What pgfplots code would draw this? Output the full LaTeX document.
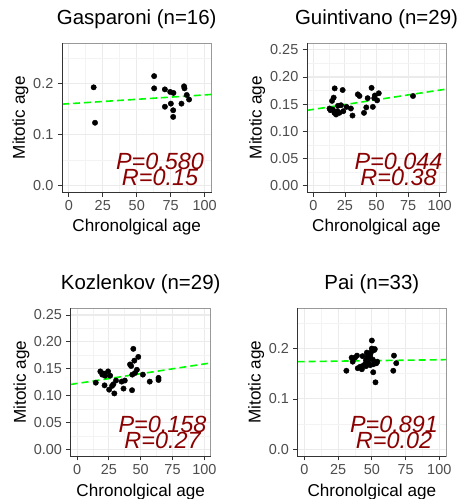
\documentclass[border=0pt]{standalone}
\usepackage{fontspec}
\setmainfont{Liberation Sans}
\usepackage{pgfplots}
\pgfplotsset{compat=1.18}
\definecolor{gridc}{HTML}{EBEBEB}
\definecolor{prc}{HTML}{8B0000}
\definecolor{tickc}{HTML}{4D4D4D}
\definecolor{fitc}{HTML}{00FF00}

\pgfplotsset{
 panel/.style={
  scale only axis,
  xmin=-5, xmax=105,
  xtick={0,25,50,75,100},
  xticklabels={0,25,50,75,100},
  minor xtick={12.5,37.5,62.5,87.5},
  grid=both,
  major grid style={draw=gridc, line width=1.1bp},
  minor grid style={draw=gridc!60, line width=0.6bp},
  axis line style={draw=black!40, line width=0.8bp},
  tick pos=left, tick align=outside,
  major tick length=4.5bp, minor tick length=0pt,
  tick style={draw=black!80, line width=0.8bp},
  /pgf/number format/assume math mode=true,
  ticklabel style={font=\fontsize{14.5}{14.5}\selectfont, text=tickc, inner sep=0pt},
  xticklabel style={anchor=north, yshift=-3.5bp},
  yticklabel style={anchor=east, xshift=-4bp},
  xlabel={Chronolgical age}, ylabel={Mitotic age},
  label style={font=\fontsize{17.2}{17.2}\selectfont},
  title style={font=\fontsize{20.5}{20.5}\selectfont, anchor=base},
  after end axis/.code={\draw[black!80,line width=0.8bp] (rel axis cs:0,1) -- (rel axis cs:0,0) -- (rel axis cs:1,0);},
 },
 ysmall/.style={ymin=-0.0133, ymax=0.28, ytick={0,0.1,0.2}, yticklabels={0.0,0.1,0.2}, minor ytick={0.05,0.15,0.25}},
 ybig/.style={ymin=-0.0125, ymax=0.2625, ytick={0,0.05,0.1,0.15,0.2,0.25}, yticklabels={0.00,0.05,0.10,0.15,0.20,0.25}, minor ytick={0.025,0.075,0.125,0.175,0.225}},
 pts/.style={only marks, mark=*, mark size=2.7bp, black},
 fit/.style={no marks, draw=fitc, dash pattern=on 7bp off 4bp, line width=1.6bp},
}

\pgfplotstableread{
x y
18.3 0.193
19.3 0.1235
62.8 0.215
62.8 0.191
70.7 0.189
70.7 0.155
74.6 0.184
77.0 0.182
75.1 0.161
76.8 0.148
76.8 0.135
82.9 0.161
84.8 0.195
85.1 0.191
86.8 0.178
88.5 0.169
}\gasparoni

\pgfplotstableread{
x y
12.8 0.142
14.8 0.156
16.1 0.162
16.9 0.179
15.4 0.140
16.7 0.134
18.0 0.131
19.0 0.137
19.5 0.147
20.6 0.134
21.9 0.148
23.2 0.176
23.7 0.137
26.3 0.145
29.7 0.142
31.0 0.129
35.2 0.168
36.5 0.165
40.1 0.134
41.9 0.144
43.0 0.161
46.1 0.180
47.1 0.145
48.2 0.161
48.7 0.166
50.5 0.157
51.8 0.170
13.5 0.139
78.9 0.165
}\guintivano

\pgfplotstableread{
x y
14.7 0.124
18.3 0.145
19.8 0.139
21.0 0.141
22.1 0.137
24.4 0.145
26.0 0.137
21.6 0.119
25.2 0.111
27.5 0.118
29.3 0.104
28.5 0.121
30.6 0.128
35.0 0.126
37.5 0.128
36.5 0.113
41.6 0.158
42.5 0.155
44.2 0.187
45.0 0.165
48.1 0.172
43.2 0.110
43.4 0.139
45.5 0.142
47.0 0.148
51.7 0.139
57.1 0.126
64.0 0.133
64.0 0.129
}\kozlenkov

\pgfplotstableread{
x y
31.1 0.156
35.0 0.182
35.8 0.174
37.5 0.182
39.0 0.186
39.5 0.161
41.4 0.164
42.6 0.159
43.6 0.166
44.9 0.169
45.6 0.177
46.3 0.192
46.8 0.184
47.3 0.172
48.0 0.180
48.8 0.185
49.3 0.192
50.0 0.216
50.0 0.200
50.7 0.178
51.2 0.169
51.7 0.197
52.2 0.199
51.0 0.153
52.7 0.133
53.4 0.171
54.0 0.174
66.4 0.186
68.1 0.171
65.9 0.156
45.6 0.165
43.1 0.185
48.8 0.167
}\pai

\begin{document}
\begin{tikzpicture}[x=1bp,y=1bp]
\useasboundingbox[fill=white] (0,0) rectangle (462,499);

% Panel 1: Gasparoni  box x 62..211.5, y 43..192.5
\begin{axis}[panel, ysmall, at={(62bp,306.5bp)}, anchor=south west,
  width=149.5bp, height=149.5bp,
  title={Gasparoni (n=16)}, title style={at={(axis description cs:0.5,1.082)}},
  xlabel style={at={(axis description cs:0.5,-0.264)}, anchor=base},
  ylabel style={at={(axis description cs:-0.2475,0.5)}, rotate=0, anchor=base}]
\addplot[fit] coordinates {(-5,0.160) (105,0.179)};
\addplot[pts] table {\gasparoni};
\end{axis}

% Panel 2: Guintivano box x 307..446, y 43..192.5
\begin{axis}[panel, ybig, at={(307bp,306.5bp)}, anchor=south west,
  width=139bp, height=149.5bp,
  title={Guintivano (n=29)}, title style={at={(axis description cs:0.5,1.082)}},
  xlabel style={at={(axis description cs:0.5,-0.264)}, anchor=base},
  ylabel style={at={(axis description cs:-0.327,0.5)}, rotate=0, anchor=base}]
\addplot[fit] coordinates {(-5,0.1386) (105,0.1776)};
\addplot[pts] table {\guintivano};
\end{axis}

% Panel 3: Kozlenkov box x 70.7..210.7, y 308.3..456
\begin{axis}[panel, ybig, at={(70.7bp,43bp)}, anchor=south west,
  width=140bp, height=147.7bp,
  title={Kozlenkov (n=29)}, title style={at={(axis description cs:0.5,1.090)}},
  xlabel style={at={(axis description cs:0.5,-0.271)}, anchor=base},
  ylabel style={at={(axis description cs:-0.321,0.5)}, rotate=0, anchor=base}]
\addplot[fit] coordinates {(-5,0.1207) (105,0.1607)};
\addplot[pts] table {\kozlenkov};
\end{axis}

% Panel 4: Pai box x 297.7..446, y 308.3..456
\begin{axis}[panel, ysmall, at={(297.7bp,43bp)}, anchor=south west,
  width=148.3bp, height=147.7bp,
  title={Pai (n=33)}, title style={at={(axis description cs:0.5,1.090)}},
  xlabel style={at={(axis description cs:0.5,-0.271)}, anchor=base},
  ylabel style={at={(axis description cs:-0.2495,0.5)}, rotate=0, anchor=base}]
\addplot[fit] coordinates {(-5,0.174) (105,0.178)};
\addplot[pts] table {\pai};
\end{axis}

% P / R annotations
\begin{scope}[every node/.style={anchor=base, inner sep=0pt, text=prc, font=\fontsize{23.5}{23.5}\selectfont\itshape}]
\node at (160,{499-169.5}) {P=0.580};
\node at (160,{499-185.5}) {R=0.15};
\node at (398.5,{499-169.5}) {P=0.044};
\node at (398.5,{499-185.5}) {R=0.38};
\node at (162.5,{499-432.5}) {P=0.158};
\node at (162.5,{499-448.5}) {R=0.27};
\node at (394,{499-432.5}) {P=0.891};
\node at (394,{499-448.5}) {R=0.02};
\end{scope}
\end{tikzpicture}
\end{document}
